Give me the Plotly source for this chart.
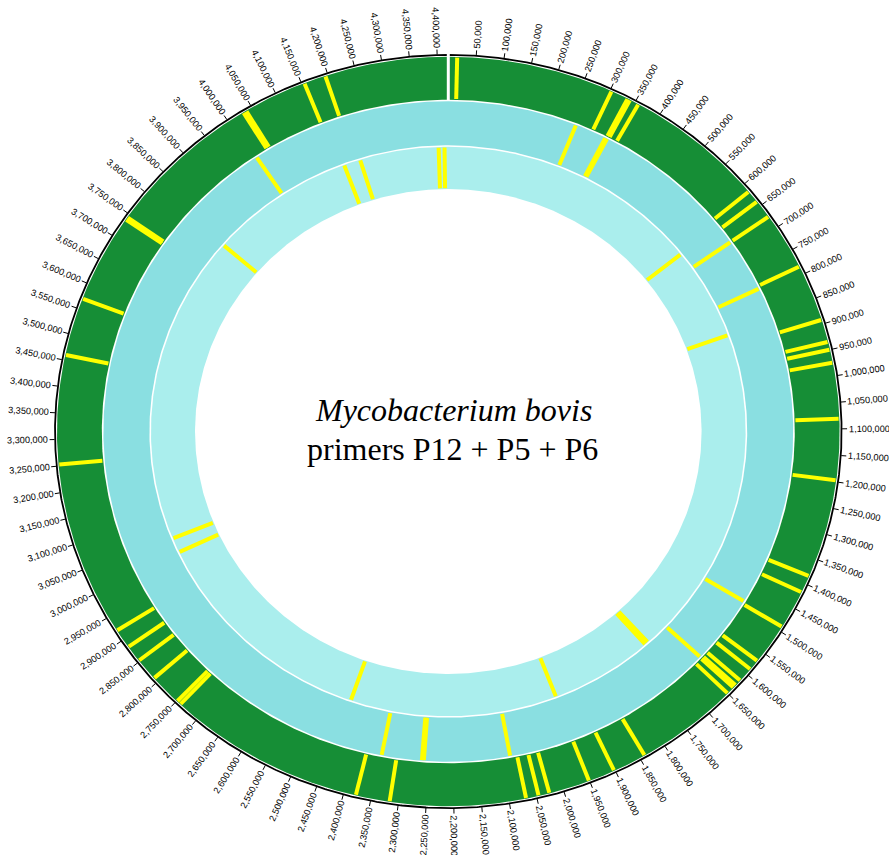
import numpy as np
import plotly.graph_objects as go

# ---- genome map data -------------------------------------------------------
GENOME_LENGTH = 4_420_000          # bp covered by one full turn
GENOME_START = 0                   # origin marker at the top of the map

tick_values = list(range(50_000, 4_400_001, 50_000))
tick_labels = [f"{v:,}" for v in tick_values]

# amplicon positions (bp) for each track, outermost track first
outer_track_hits = [
    16_000, 303_000, 335_000, 340_000, 357_000, 616_000, 640_000, 675_000,
    784_000, 892_000, 935_000, 950_000, 975_000, 1_081_000, 1_197_000,
    1_384_000, 1_417_000, 1_491_000, 1_569_000, 1_589_000, 1_617_000,
    1_629_000, 1_635_000, 1_650_000, 1_840_000, 1_902_000, 1_951_000,
    2_026_000, 2_046_000, 2_069_000, 2_316_000, 2_378_000, 2_741_000,
    2_749_000, 2_809_000, 2_852_000, 2_884_000, 2_921_000, 3_253_000,
    3_460_000, 3_570_000, 3_738_000, 3_743_000, 4_032_000, 4_038_000,
    4_155_000, 4_195_000,
]
middle_track_hits = [
    267_000, 333_000, 337_000, 675_000, 790_000, 1_485_000, 1_634_000,
    2_083_000, 2_260_000, 2_264_000, 2_347_000, 4_005_000,
]
inner_track_hits = [
    632_000, 862_000, 1_692_000, 1_700_000, 1_949_000, 2_445_000,
    3_007_000, 3_044_000, 3_817_000, 4_168_000, 4_208_000, 4_397_000,
    4_411_000,
]

species = "Mycobacterium bovis"
primer_set = "primers P12 + P5 + P6"

# ---- geometry --------------------------------------------------------------
W, H = 889, 855
CX, CY = 448.3, 431.5        # map centre (px)
RX, RY = 393.3, 376.6        # semi-axes of the scale circle (px)

GREEN, TEAL, PALE, YELLOW = "#168e36", "#8adfe1", "#aaeeed", "#ffff00"

# (inner, outer) radius of each track as a fraction of the scale circle
tracks = [
    (0.881, 0.995, GREEN, outer_track_hits),
    (0.760, 0.877, TEAL, middle_track_hits),
    (0.644, 0.756, PALE, inner_track_hits),
]


def angle_of(bp):
    return np.asarray(bp, dtype=float) / GENOME_LENGTH * 360.0


def to_xy(r, theta_deg, extra_px=0.0):
    t = np.radians(theta_deg)
    x = (r * RX + extra_px) * np.sin(t) / RX
    y = (r * RY + extra_px) * np.cos(t) / RY
    return x, y


def disk(r, color):
    th = np.linspace(0, 360, 721)
    x, y = to_xy(r, th)
    return go.Scatter(x=x, y=y, mode="lines", fill="toself", fillcolor=color,
                      line=dict(width=0, color=color), hoverinfo="skip")


def radial_segments(thetas, r0, r1, px0=0.0, px1=0.0):
    xs, ys = [], []
    for th in thetas:
        xa, ya = to_xy(r0, th, px0)
        xb, yb = to_xy(r1, th, px1)
        xs += [xa, xb, None]
        ys += [ya, yb, None]
    return xs, ys


fig = go.Figure()

# track backgrounds, separated by thin white rims
for r_in, r_out, color, _ in tracks:
    fig.add_trace(disk(r_out, color))
    fig.add_trace(disk(r_in, "#ffffff"))

# amplicon marks
for r_in, r_out, _, hits in tracks:
    xs, ys = radial_segments(angle_of(hits), r_in + 0.002, r_out - 0.002)
    fig.add_trace(go.Scatter(x=xs, y=ys, mode="lines",
                             line=dict(color=YELLOW, width=4), hoverinfo="skip"))

# scale circle
th = np.linspace(0, 360, 1441)
sx, sy = to_xy(1.0, th)
fig.add_trace(go.Scatter(x=sx, y=sy, mode="lines",
                         line=dict(color="#000000", width=1.8), hoverinfo="skip"))

# origin break in the outer track and the scale circle
gx, gy = radial_segments(angle_of([GENOME_START]), 0.879, 1.0, 0, 3)
fig.add_trace(go.Scatter(x=gx, y=gy, mode="lines",
                         line=dict(color="#ffffff", width=3), hoverinfo="skip"))

# ticks
tick_theta = angle_of(tick_values)
tx, ty = radial_segments(tick_theta, 1.0, 1.0, 0.5, 5.5)
fig.add_trace(go.Scatter(x=tx, y=ty, mode="lines",
                         line=dict(color="#000000", width=1), hoverinfo="skip"))

# tick labels, running radially outward
FS = 9.2
for label, theta in zip(tick_labels, tick_theta):
    em = sum(0.278 if ch == "," else 0.556 for ch in label)
    width = em * FS
    x, y = to_xy(1.0, theta, 5.5 + 1.5 + width / 2)
    angle = theta - 90 if theta < 180 else theta - 270
    fig.add_annotation(x=x, y=y, text=label, showarrow=False,
                       xanchor="center", yanchor="middle", textangle=angle,
                       borderpad=0,
                       font=dict(family="Liberation Sans, Arial", size=FS,
                                 color="#000000"))

# centre caption
fig.add_annotation(x=5 / RX, y=21.5 / RY, text=f"<i>{species}</i>", showarrow=False,
                   xanchor="center", yanchor="middle",
                   font=dict(family="Liberation Serif, Times New Roman",
                             size=32, color="#000000"))
fig.add_annotation(x=4.5 / RX, y=-17 / RY, text=primer_set, showarrow=False,
                   xanchor="center", yanchor="middle",
                   font=dict(family="Liberation Serif, Times New Roman",
                             size=32, color="#000000"))

fig.update_layout(
    width=W, height=H,
    margin=dict(l=0, r=0, t=0, b=0),
    paper_bgcolor="#ffffff", plot_bgcolor="#ffffff",
    showlegend=False,
    xaxis=dict(range=[-CX / RX, (W - CX) / RX], visible=False, fixedrange=True),
    yaxis=dict(range=[(CY - H) / RY, CY / RY], visible=False, fixedrange=True),
)

fig.write_html("out.html")
